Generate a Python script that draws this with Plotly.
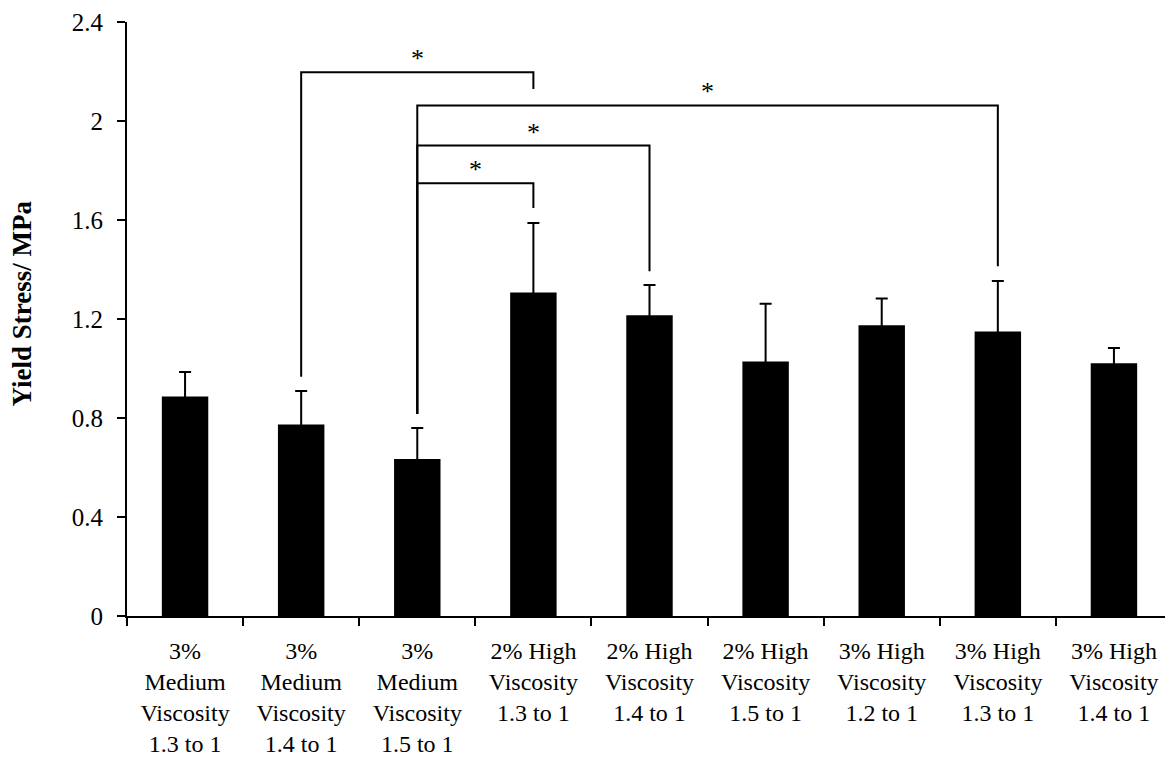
import plotly.graph_objects as go

categories = [
    "3%<br>Medium<br>Viscosity<br>1.3 to 1",
    "3%<br>Medium<br>Viscosity<br>1.4 to 1",
    "3%<br>Medium<br>Viscosity<br>1.5 to 1",
    "2% High<br>Viscosity<br>1.3 to 1",
    "2% High<br>Viscosity<br>1.4 to 1",
    "2% High<br>Viscosity<br>1.5 to 1",
    "3% High<br>Viscosity<br>1.2 to 1",
    "3% High<br>Viscosity<br>1.3 to 1",
    "3% High<br>Viscosity<br>1.4 to 1",
]
yield_stress = [0.887, 0.774, 0.634, 1.307, 1.215, 1.028, 1.175, 1.149, 1.021]
yield_err = [0.099, 0.135, 0.126, 0.281, 0.122, 0.234, 0.108, 0.205, 0.062]

y_tick_vals = [0, 0.4, 0.8, 1.2, 1.6, 2.0, 2.4]
y_tick_text = ["0", "0.4", "0.8", "1.2", "1.6", "2", "2.4"]

# significance brackets: (left index, left bottom, right index, right bottom, top)
bracket_left = [1, 2, 2, 2]
bracket_left_bottom = [0.967, 0.816, 0.816, 0.816]
bracket_right = [3, 7, 4, 3]
bracket_right_bottom = [2.129, 1.413, 1.393, 1.648]
bracket_top = [2.197, 2.063, 1.901, 1.748]
bracket_label = ["*", "*", "*", "*"]

FONT = "Liberation Serif"
xpos = list(range(len(categories)))

fig = go.Figure()
fig.add_trace(go.Bar(
    x=xpos, y=yield_stress, width=0.4,
    marker=dict(color="black", line=dict(width=0)),
    # lower cap tucked just inside the black bar so only the upper whisker shows
    error_y=dict(type="data", array=yield_err, symmetric=False,
                 arrayminus=[0.012] * len(yield_err),
                 color="black", thickness=2, width=6),
    showlegend=False, hoverinfo="skip",
))

for i in range(len(bracket_left)):
    xl, xr = bracket_left[i], bracket_right[i]
    fig.add_trace(go.Scatter(
        x=[xl, xl, xr, xr],
        y=[bracket_left_bottom[i], bracket_top[i], bracket_top[i], bracket_right_bottom[i]],
        mode="lines", line=dict(color="black", width=2),
        showlegend=False, hoverinfo="skip", cliponaxis=False,
    ))
    fig.add_annotation(
        x=(xl + xr) / 2, y=bracket_top[i], text=bracket_label[i],
        showarrow=False, xanchor="center", yanchor="bottom",
        font=dict(family=FONT, size=26, color="black"), yshift=-3,
    )

fig.add_annotation(
    xref="paper", yref="paper", x=-0.1005, y=0.526,
    text="<b>Yield Stress/ MPa</b>", textangle=-90, showarrow=False,
    xanchor="center", yanchor="middle",
    font=dict(family=FONT, size=27, color="black"),
)

fig.update_layout(
    width=1165, height=750,
    margin=dict(l=119, r=1, t=12, b=137),
    plot_bgcolor="white", paper_bgcolor="white",
    font=dict(family=FONT, size=24, color="black"),
    xaxis=dict(
        range=[-0.5, 8.5], tickmode="array", tickvals=xpos, ticktext=categories,
        ticks="", showline=True, linecolor="black", linewidth=2,
        showgrid=False, zeroline=False, ticklabelstandoff=12,
        tickfont=dict(family=FONT, size=24, color="black"),
        minor=dict(tickmode="array", tickvals=[i - 0.5 for i in range(len(categories) + 1)],
                   ticks="outside", ticklen=8, tickwidth=2, tickcolor="black", showgrid=False),
    ),
    yaxis=dict(
        range=[0, 2.4], tickmode="array", tickvals=y_tick_vals, ticktext=y_tick_text,
        ticks="outside", ticklen=8, tickwidth=2, tickcolor="black",
        showline=True, linecolor="black", linewidth=2,
        showgrid=False, zeroline=False, ticklabelstandoff=9,
        ticklabeloverflow="allow",
        tickfont=dict(family=FONT, size=25, color="black"),
    ),
)

fig.write_html("out.html")
